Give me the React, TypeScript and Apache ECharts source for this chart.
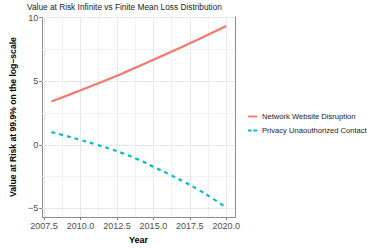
import React, { useEffect, useRef } from "react";
import * as echarts from "echarts";

const years = [2008, 2009, 2010, 2011, 2012, 2013, 2014, 2015, 2016, 2017, 2018, 2019, 2020];
const networkWebsiteDisruption = [3.4, 3.84, 4.28, 4.73, 5.19, 5.67, 6.17, 6.68, 7.19, 7.71, 8.24, 8.78, 9.33];
const privacyUnaouthorizedContact = [1.0, 0.7, 0.38, 0.05, -0.31, -0.71, -1.18, -1.72, -2.27, -2.85, -3.47, -4.17, -4.93];
const xTicks = [2007.5, 2010, 2012.5, 2015, 2017.5, 2020];
const xMinor = [2008.75, 2011.25, 2013.75, 2016.25, 2018.75];
const yTicks = [-5, 0, 5, 10];
const yMinor = [-2.5, 2.5, 7.5];

const seriesNames = ["Network Website Disruption", "Privacy Unaouthorized Contact"];
const FONT = "Liberation Sans, Arial, sans-serif";
const X_MIN = 2007.37;
const X_MAX = 2020.6;
const Y_MIN = -5.68;
const Y_MAX = 10.04;

export default function App() {
  const ref = useRef<HTMLDivElement>(null);
  useEffect(() => {
    if (!ref.current) return;
    const chart = echarts.init(ref.current, undefined, { renderer: "svg" });
    const major = { color: "#e8e8e8", width: 1, type: "solid" };
    const minor = { color: "#f2f2f2", width: 1, type: "solid" };
    const gridLines = [
      ...xTicks.map((v) => ({ xAxis: v, lineStyle: major })),
      ...xMinor.map((v) => ({ xAxis: v, lineStyle: minor })),
      ...yTicks.map((v) => ({ yAxis: v, lineStyle: major })),
      ...yMinor.map((v) => ({ yAxis: v, lineStyle: minor })),
    ];
    const borderLine = { show: true, onZero: false, lineStyle: { color: "#8c8c8c", width: 1 } };
    const hiddenAxisParts = {
      axisTick: { show: false },
      axisLabel: { show: false },
      splitLine: { show: false },
    };
    chart.setOption({
      animation: false,
      backgroundColor: "#ffffff",
      textStyle: { fontFamily: FONT },
      title: {
        text: "Value at Risk Infinite vs Finite Mean Loss Distribution",
        left: 27,
        top: 3,
        padding: 0,
        textStyle: { fontSize: 8.3, fontWeight: "normal", color: "#1a1a1a", fontFamily: FONT },
      },
      grid: {
        left: 27,
        right: 139,
        top: 17,
        bottom: 29,
        show: false,
      },
      legend: {
        data: [
          { name: seriesNames[0], icon: "path://M0,0h10v2h-10z" },
          { name: seriesNames[1], icon: "path://M0,0h4v2h-4z M6,0h4v2h-4z" },
        ],
        orient: "vertical",
        left: 248,
        top: 112,
        padding: 0,
        itemWidth: 9,
        itemHeight: 2,
        itemGap: 5,
        textStyle: { fontSize: 7.6, color: "#1a1a1a", fontFamily: FONT, lineHeight: 9 },
      },
      xAxis: [
        {
          type: "value",
          min: X_MIN,
          max: X_MAX,
          name: "Year",
          nameLocation: "middle",
          nameGap: 16,
          nameTextStyle: { fontSize: 9, fontWeight: "bold", color: "#000", fontFamily: FONT },
          axisLine: borderLine,
          axisTick: { show: true, length: 3, customValues: xTicks, lineStyle: { color: "#7f7f7f" } },
          axisLabel: {
            customValues: xTicks,
            fontSize: 9,
            color: "#4d4d4d",
            margin: 4,
            formatter: (v: number) => v.toFixed(1),
          },
          splitLine: { show: false },
        },
        { type: "value", min: X_MIN, max: X_MAX, position: "top", axisLine: borderLine, ...hiddenAxisParts },
      ],
      yAxis: [
        {
          type: "value",
          min: Y_MIN,
          max: Y_MAX,
          name: "Value at Risk at 99.9% on the log\u2212scale",
          nameLocation: "middle",
          nameGap: 19,
          nameRotate: 90,
          nameTextStyle: { fontSize: 8.6, fontWeight: "bold", color: "#000", fontFamily: FONT },
          axisLine: borderLine,
          axisTick: { show: true, length: 3, customValues: yTicks, lineStyle: { color: "#7f7f7f" } },
          axisLabel: {
            customValues: yTicks,
            fontSize: 9,
            color: "#4d4d4d",
            margin: 4,
            formatter: (v: number) => String(v).replace("-", "\u2212"),
          },
          splitLine: { show: false },
        },
        { type: "value", min: Y_MIN, max: Y_MAX, position: "right", axisLine: borderLine, ...hiddenAxisParts },
      ],
      series: [
        {
          name: seriesNames[0],
          type: "line",
          z: 3,
          symbol: "none",
          smooth: true,
          data: years.map((y, i) => [y, networkWebsiteDisruption[i]]),
          lineStyle: { color: "#F8766D", width: 2.2 },
          itemStyle: { color: "#F8766D" },
          markLine: {
            z: 1,
            silent: true,
            symbol: "none",
            label: { show: false },
            animation: false,
            lineStyle: { color: "#e8e8e8", width: 1, type: "solid" },
            data: gridLines,
          },
        },
        {
          name: seriesNames[1],
          type: "line",
          z: 3,
          symbol: "none",
          smooth: true,
          data: years.map((y, i) => [y, privacyUnaouthorizedContact[i]]),
          lineStyle: { color: "#00BFC4", width: 2.2, type: [4, 4] },
          itemStyle: { color: "#00BFC4" },
        },
      ],
    });
    return () => chart.dispose();
  }, []);
  return <div ref={ref} style={{ width: 374, height: 249, position: "absolute", left: 0, top: 0 }} />;
}
